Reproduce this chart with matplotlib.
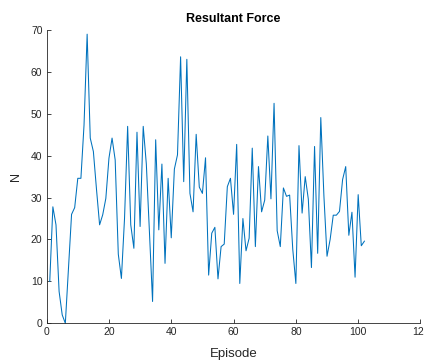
import matplotlib
matplotlib.use('Agg')
import matplotlib.pyplot as plt
import numpy as np

# Resultant force per episode
force = [10, 27.8, 23.5, 7.6, 2, 0, 13, 26, 27.6, 34.6,
         34.6, 47.3, 69, 44.2, 41, 32, 23.5, 25.9, 29.8, 39.4,
         44.2, 39, 16.5, 10.7, 25, 47, 23.5, 17.9, 45.6, 23.1,
         47, 38, 21.7, 5.2, 43.8, 22.3, 38, 14.3, 34.6, 20.4,
         36.8, 40.2, 63.6, 33.8, 63, 31, 26.6, 45.1, 32.5, 31,
         39.5, 11.5, 21.5, 22.9, 10.6, 18.3, 18.9, 32.6, 34.6, 26,
         42.7, 9.5, 25, 17.3, 20.3, 41.8, 18.3, 37.4, 26.6, 29.4,
         44.7, 29.7, 52.5, 22.1, 18.3, 32.3, 30.3, 30.6, 17.7, 9.5,
         42.4, 26.3, 35, 29.6, 13.3, 42.2, 16.7, 49.1, 30.4, 16,
         20, 25.8, 25.8, 26.7, 34.3, 37.4, 21, 26.5, 11, 30.7,
         18.5, 19.6]
episodes = np.arange(1, len(force) + 1)

x_ticks = [0, 20, 40, 60, 80, 100, 120]
y_ticks = [0, 10, 20, 30, 40, 50, 60, 70]

plt.rcParams['font.family'] = ['Liberation Sans', 'DejaVu Sans']

fig = plt.figure(figsize=(4.24, 3.6), dpi=100)
ax = fig.add_axes([0.110, 0.102, 0.8817, 0.8147])

ax.plot(episodes, force, color='#0072BD', linewidth=0.75, clip_on=False)

ax.set_xlim(0, 120)
ax.set_ylim(0, 70)
ax.set_xticks(x_ticks)
ax.set_yticks(y_ticks)

axis_color = '#262626'
for side in ['top', 'right']:
    ax.spines[side].set_visible(False)
for side in ['left', 'bottom']:
    ax.spines[side].set_color(axis_color)
    ax.spines[side].set_linewidth(0.6)
ax.tick_params(direction='in', length=3, width=0.6, colors=axis_color,
               labelsize=7.5, pad=3)

ax.set_title('Resultant Force', fontsize=9, fontweight='bold', pad=6)
ax.set_xlabel('Episode', fontsize=9.5, color=axis_color)
ax.set_ylabel('N', fontsize=9, color=axis_color)
ax.xaxis.set_label_coords(0.5, -0.083)
ax.yaxis.set_label_coords(-0.066, 0.5)

fig.savefig('out.png', dpi=100)
